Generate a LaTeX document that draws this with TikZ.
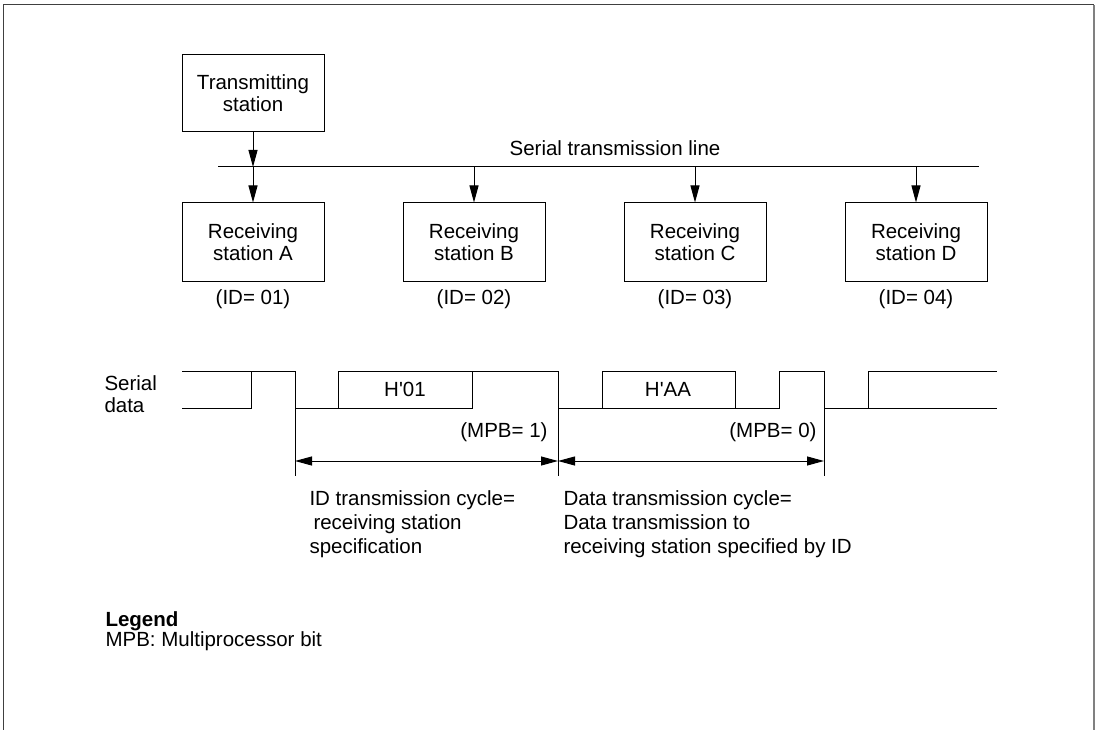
\documentclass[tikz,border=0pt]{standalone}
\usepackage{fontspec}
\setmainfont{Liberation Sans}
\usetikzlibrary{arrows.meta, positioning}

\begin{document}
\begin{tikzpicture}[x=1pt, y=-1pt, line width=1pt,
  >={Triangle[length=17pt, width=9pt]},
  font=\fontsize{20.5}{22}\selectfont,
  station/.style={draw, minimum width=142pt, minimum height=78pt, align=center, inner sep=0pt},
  note/.style={anchor=north west, inner sep=0pt, align=left, font=\fontsize{20.5}{24}\selectfont}]
  \useasboundingbox (0,0) rectangle (1098,730);
  % frame
  \draw[black!75] (3,730) -- (3,5) -- (1094,5);
  \draw[gray, line width=2pt] (1094,5) -- (1094,730);
  % stations and bus
  \node[station, minimum height=77pt] (tx) at (253,93.5) {Transmitting\\station};
  \coordinate (busW) at (218,167);
  \coordinate (busE) at (979,167);
  \draw (busW) -- (busE);
  \node (buslabel) at (615,148) {Serial transmission line};
  \foreach \n/\x/\id in {A/253/01, B/474/02, C/695/03, D/916/04} {
    \node[station] (rx\n) at (\x,242) {Receiving\\station \n};
    \node[below=4pt of rx\n] (id\n) {(ID= \id)};
    \draw[->] (rx\n.north |- busW) -- (rx\n);
  }
  \draw[->] (tx) -- (tx.south |- busW);
  % serial data waveform
  \node[anchor=west, align=left, inner sep=0pt] (serial) at (104,394) {Serial\\data};
  \draw (182,371) -- (295,371) -- (295,408) -- (472,408) -- (472,371);
  \draw (182,408) -- (251,408) -- (251,371);
  \draw (338,408) -- (338,371) -- (558,371) -- (558,408) -- (779,408) -- (779,371) -- (824,371) -- (824,408) -- (997,408);
  \draw (602,408) -- (602,371) -- (735,371) -- (735,408);
  \draw (868,408) -- (868,371) -- (997,371);
  \node (id01) at (405,389) {H\textquotesingle 01};
  \node (idAA) at (668,389) {H\textquotesingle AA};
  % cycles
  \foreach \x in {295,558,824} \draw (\x,408) -- (\x,476);
  \coordinate (c1) at (295,461);
  \coordinate (c2) at (558,461);
  \coordinate (c3) at (824,461);
  \draw[<->] (c1) -- (c2);
  \draw[<->] (c2) -- (c3);
  \node[anchor=east, inner sep=0pt] (mpb1) at (548,432) {(MPB= 1)};
  \node[anchor=east, inner sep=0pt] (mpb0) at (817,432) {(MPB= 0)};
  \node[note] (idcycle) at (309,490) {ID transmission cycle=\\\hspace{4pt}receiving station\\specification};
  \node[note] (datacycle) at (563,490) {Data transmission cycle=\\Data transmission to\\receiving station specified by ID};
  % legend
  \node[note, font=\fontsize{20.5}{20}\selectfont] (legend) at (105,611) {\bfseries Legend\\MPB: Multiprocessor bit};
\end{tikzpicture}
\end{document}
